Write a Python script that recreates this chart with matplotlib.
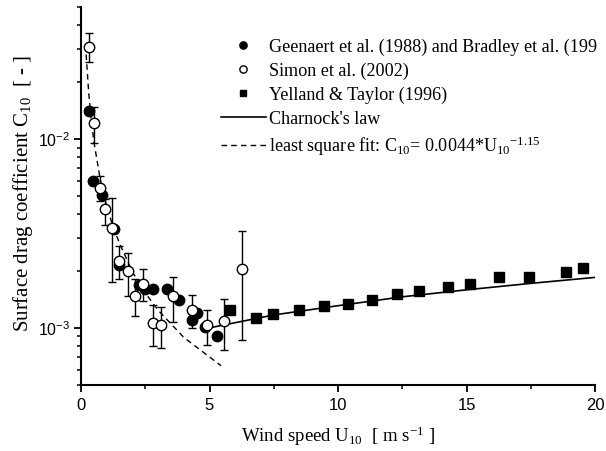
import matplotlib
matplotlib.use("Agg")
import matplotlib.pyplot as plt
from matplotlib.ticker import FixedLocator, MultipleLocator, NullFormatter, LogLocator

plt.rcParams['font.family'] = ['Liberation Serif', 'DejaVu Serif']
plt.rcParams['mathtext.fontset'] = 'custom'
plt.rcParams['mathtext.rm'] = 'Liberation Serif'
plt.rcParams['mathtext.it'] = 'Liberation Serif:italic'
plt.rcParams['mathtext.sf'] = 'Liberation Sans'

# Geernaert et al. (1988) and Bradley et al., filled circles
geer_u = [0.31, 0.47, 0.80, 1.28, 1.49, 2.27, 2.49, 2.81, 3.33, 3.81, 4.31, 4.50, 4.82, 5.30]
geer_c = [0.0141, 0.00601, 0.00505, 0.00333, 0.00215, 0.00169, 0.00161, 0.00161, 0.00161,
          0.00140, 0.00110, 0.00120, 0.00101, 0.000904]

# Simon et al. (2002), open circles with error bars
simon_u = [0.31, 0.52, 0.74, 0.92, 1.19, 1.49, 1.83, 2.11, 2.42, 2.79, 3.10, 3.57, 4.33, 4.89, 5.56, 6.28]
simon_c = [0.0307, 0.01222, 0.00547, 0.00425, 0.00336, 0.00227, 0.00201, 0.00148, 0.00171,
           0.00106, 0.00103, 0.00147, 0.00124, 0.00103, 0.00109, 0.00206]
simon_hi = [0.0364, 0.01486, 0.0064, 0.0048, 0.0049, 0.0027, 0.0025, 0.00182, 0.00206,
            0.00132, 0.00129, 0.00186, 0.00149, 0.00125, 0.00143, 0.00324]
simon_lo = [0.0255, 0.00957, 0.0047, 0.0035, 0.00175, 0.00182, 0.00147, 0.00116, 0.00138,
            0.00080, 0.00078, 0.00107, 0.00100, 0.00081, 0.00076, 0.00086]

# Yelland & Taylor (1996), filled squares
yell_u = [5.80, 6.81, 7.48, 8.50, 9.46, 10.38, 11.33, 12.28, 13.15, 14.29, 15.14, 16.28, 17.44, 18.86, 19.54]
yell_c = [0.00125, 0.00113, 0.00118, 0.00125, 0.00131, 0.00134, 0.00141, 0.00152, 0.00156,
          0.00164, 0.00170, 0.00185, 0.00187, 0.00198, 0.00207]

# Charnock's law
char_u = [5.0, 7.5, 10.0, 12.5, 15.0, 17.5, 20.0]
char_c = [0.00100, 0.00117, 0.00131, 0.00146, 0.00159, 0.00172, 0.00185]

# least square fit
fit_u = [0.2, 0.3, 0.4, 0.5, 0.75, 1.0, 1.25, 1.5, 2.0, 2.5, 3.0, 4.0, 5.45]
fit_c = [0.0280, 0.0176, 0.0126, 0.0097, 0.0061, 0.0044, 0.00342, 0.0028, 0.00198, 0.00153,
         0.00124, 0.00089, 0.00063]

fig = plt.figure(figsize=(6.06, 4.52), dpi=100)
ax = fig.add_axes([81/606, 1-385.7/452, (595-81)/606, (385.7-8)/452])

ax.plot(fit_u, fit_c, color='black', lw=1.0, dashes=(4, 3), zorder=1,
        label=r'least square fit: C$_{10}$= 0.0044*U$_{10}{}^{-1.15}$')
ax.plot(char_u, char_c, color='black', lw=1.2, zorder=1, label="Charnock's law")

lo = [c - l for c, l in zip(simon_c, simon_lo)]
hi = [h - c for c, h in zip(simon_c, simon_hi)]
ax.errorbar(simon_u, simon_c, yerr=[lo, hi], fmt='none', ecolor='black', elinewidth=1.0,
            capsize=3, capthick=1.0, zorder=2)

ax.plot(geer_u, geer_c, 'o', color='black', ms=7.5, zorder=3,
        label='Geenaert et al. (1988) and Bradley et al. (199')
ax.plot(simon_u, simon_c, 'o', mfc='white', mec='black', mew=1.0, ms=7.5, zorder=4,
        label='Simon et al. (2002)')
ax.plot(yell_u, yell_c, 's', color='black', ms=6.5, zorder=3,
        label='Yelland & Taylor (1996)')

ax.set_yscale('log')
ax.set_xlim(0, 20)
ax.set_ylim(5e-4, 5e-2)

for s in ['top', 'right']:
    ax.spines[s].set_visible(False)
for s in ['left', 'bottom']:
    ax.spines[s].set_linewidth(1.5)

ax.xaxis.set_minor_locator(MultipleLocator(2.5))
ax.set_xticks([0, 5, 10, 15, 20])
ax.set_xticklabels(['0', '5', '10', '15', '20'], family='Liberation Sans')
ax.yaxis.set_major_locator(FixedLocator([1e-3, 1e-2]))
ax.yaxis.set_minor_locator(LogLocator(base=10, subs=range(2, 10), numticks=20))
ax.yaxis.set_minor_formatter(NullFormatter())
ax.set_yticks([1e-3, 1e-2])
ax.set_yticklabels([r'$\mathsf{10^{-3}}$', r'$\mathsf{10^{-2}}$'])
ax.tick_params(which='major', direction='out', length=5, width=1.3, labelsize=12)
ax.tick_params(axis='y', which='major', labelsize=11.5, pad=3)
ax.tick_params(which='minor', direction='out', length=3, width=1.1)

ax.set_xlabel(r'Wind speed U$_{10}$  [ m s$^{-1}$ ]', fontsize=13.5, labelpad=9)
ax.set_ylabel(r'Surface drag coefficient C$_{10}$  [ - ]', fontsize=15)
ax.yaxis.set_label_coords(-0.09, 0.51)

handles, labels = ax.get_legend_handles_labels()
order = [2, 3, 4, 1, 0]
ax.legend([handles[i] for i in order], [labels[i] for i in order],
          loc='upper left', bbox_to_anchor=(221/606, 1-39/452), bbox_transform=fig.transFigure,
          frameon=False, fontsize=13.1, handlelength=2.45, handletextpad=0.18,
          borderpad=0, borderaxespad=0, labelspacing=0.37, markerscale=0.7)

fig.savefig('out.png', dpi=100)
